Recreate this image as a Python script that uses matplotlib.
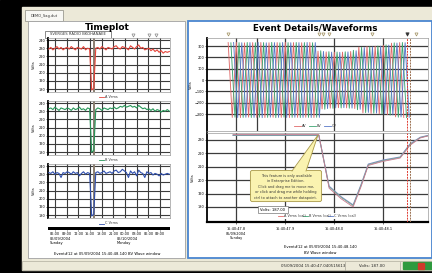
import matplotlib
matplotlib.use("Agg")
import matplotlib.pyplot as plt
import matplotlib.transforms as mtransforms
from matplotlib.patches import Rectangle, FancyBboxPatch, Polygon
import numpy as np

plt.rcParams['font.family'] = ['DejaVu Sans']

W, H = 432, 273

# ---------------- data ----------------
# Timeplot: hours since 00:00 on 05/09/2004
tp_first_hour, tp_last_hour = 4.4, 35.4
a_vrms = [229, 231, 228, 230, 232, 229, 231, 228, 230, 231,
          229, 232, 230, 228, 231, 230, 229, 232, 228, 230,
          229, 179, 181, 230, 231, 229, 232, 230, 228, 231,
          230, 229, 232, 233, 230, 229, 232, 231, 230, 228,
          233, 231, 229, 232, 234, 230, 231, 228, 229, 230,
          227, 229, 226, 228, 225, 227, 224, 226, 225, 226]
b_vrms = [233, 234, 232, 235, 233, 231, 234, 233, 232, 234,
          233, 231, 234, 232, 233, 235, 232, 233, 231, 234,
          233, 180, 182, 232, 234, 233, 231, 234, 233, 232,
          234, 233, 235, 233, 234, 236, 235, 237, 235, 236,
          237, 235, 236, 234, 237, 235, 233, 234, 232, 233,
          231, 233, 230, 232, 231, 229, 231, 230, 232, 230]
c_vrms = [232, 231, 233, 230, 232, 231, 226, 232, 231, 233,
          232, 230, 233, 231, 232, 228, 231, 233, 230, 232,
          231, 179, 181, 232, 233, 231, 232, 234, 231, 232,
          233, 231, 234, 235, 232, 233, 236, 234, 232, 226,
          234, 231, 233, 228, 235, 232, 231, 226, 233, 231,
          232, 229, 231, 230, 228, 231, 229, 230, 231, 230]
tp_ticks = [6, 9, 12, 15, 18, 21, 24, 27, 30, 33]
tp_tick_labels = ["06:00", "09:00", "12:00", "15:00", "18:00", "21:00",
                  "00:00", "03:00", "06:00", "09:00"]
tp_yticks = [180, 190, 200, 210, 220, 230, 240]
event_hour = 15.678
tp_marker_hours = [26.1, 30.2, 32.0]

# Waveforms: seconds relative to 15:40:47.8, peak volts per cycle
wave_start = -0.016
cycle = 1 / 60
env_a = [330, 332, 328, 330, 331, 329, 330, 332, 330, 329, 331,
         255, 248, 245, 246, 252, 290, 295, 298, 306, 325, 330]
env_b = [328, 330, 331, 329, 330, 332, 328, 330, 331, 330, 329,
         258, 250, 247, 249, 262, 288, 293, 300, 310, 328, 331]
env_c = [331, 329, 330, 332, 328, 330, 331, 329, 330, 331, 330,
         252, 246, 244, 248, 258, 286, 292, 299, 308, 326, 329]
wf_yticks = [-300, -200, -100, 0, 100, 200, 300]

# RMS (cal)
rms_t = [-0.006, 0.10, 0.169, 0.19, 0.215, 0.239, 0.255, 0.27, 0.30, 0.335, 0.355, 0.376, 0.392]
rms_a = [234.0, 234.0, 234.0, 194, 186, 180, 195, 211, 214, 216.5, 226, 231.5, 233]
rms_b = [233.6, 233.6, 233.6, 195, 187, 181, 196, 211.5, 214.5, 217, 226.5, 231.8, 233.2]
rms_c = [233.4, 233.4, 233.4, 195.5, 187.5, 181.5, 196.5, 212, 215, 217.3, 227, 232, 233.4]
rms_yticks = [180, 190, 200, 210, 220, 230]
wf_ticks = [0.0, 0.1, 0.2, 0.3]
wf_tick_labels = ["15:40:47.8\n05/09/2004\nSunday", "15:40:47.9", "15:40:48.0", "15:40:48.1"]
cursor_t = 0.043
event_t = [0.349, 0.356]
wf_marker_t = [-0.016, 0.169, 0.178, 0.19, 0.278, 0.367]
wf_marker_filled_t = [0.349]

# ---------------- figure ----------------
fig = plt.figure(figsize=(4.32, 2.73), dpi=100)


def box(x0, y0, x1, y1):
    return [x0 / W, 1 - y1 / H, (x1 - x0) / W, (y1 - y0) / H]


bg = fig.add_axes([0, 0, 1, 1])
bg.set_xlim(0, W); bg.set_ylim(H, 0); bg.axis('off')
bg.add_patch(Rectangle((0, 0), W, H, color='black'))
bg.add_patch(Rectangle((22, 7), W - 22, 263, color='#ece9d8'))
bg.add_patch(Rectangle((25, 10), 38, 11, facecolor='#f8f8f4', edgecolor='#8a8a80', lw=0.5))
bg.text(44, 15.5, 'DEMO_Sag.dut', fontsize=2.6, ha='center', va='center', color='#333333')
bg.add_patch(Rectangle((28, 21), 157, 237, facecolor='white', edgecolor='#a0a0a0', lw=0.6))
bg.add_patch(Rectangle((188, 20.5), 244, 237.5, facecolor='white', edgecolor='#4a86d0', lw=1.3))
bg.add_patch(Rectangle((22, 261), 410, 9, facecolor='#ece9d8', edgecolor='#b0ad9e', lw=0.5))
bg.plot([345, 345], [262, 269.5], color='#a8a598', lw=0.5)
bg.plot([400, 400], [262, 269.5], color='#a8a598', lw=0.5)
bg.add_patch(Rectangle((403, 262.3), 29, 7, color='#2e9a3e'))
bg.add_patch(Rectangle((418, 262.8), 6, 6, color='#d03a2a'))
bg.text(313, 265.8, '05/09/2004 15:40:47.040515613', fontsize=2.8, ha='center', va='center', color='#222222')
bg.text(372, 265.8, 'Volts: 187.00', fontsize=2.8, ha='center', va='center', color='#222222')

bg.text(107, 27, 'Timeplot', fontsize=6.5, fontweight='bold', ha='center', va='center')
bg.text(315, 28, 'Event Details/Waveforms', fontsize=6.3, fontweight='bold', ha='center', va='center')
bg.add_patch(Rectangle((45, 31), 66, 6.5, facecolor='white', edgecolor='#777777', lw=0.6))
bg.text(78, 34.3, 'SVERGES RADIO BKOHANAEE', fontsize=2.7, ha='center', va='center', color='#333333')

bg.text(50, 236.5, '05/09/2004\nSunday', fontsize=2.6, ha='left', va='top', linespacing=1.3)
bg.text(117, 236.5, '05/10/2004\nMonday', fontsize=2.6, ha='left', va='top', linespacing=1.3)
bg.text(107, 254, 'Event#12 at 05/09/2004 15:40:48.140 BV Wave window', fontsize=2.7, ha='center', va='center')
bg.text(320, 247.5, 'Event#12 at 05/09/2004 15:40:48.140', fontsize=2.7, ha='center', va='center')
bg.text(320, 253.5, 'BV Wave window', fontsize=2.7, ha='center', va='center')

grid_col = '#3c3c3c'
tp_x = np.linspace(tp_first_hour, tp_last_hour, len(a_vrms))


def style_spines(ax, lw_left=1.3):
    for s in ['top', 'right', 'bottom']:
        ax.spines[s].set_color('#9a9a9a'); ax.spines[s].set_linewidth(0.5)
    ax.spines['left'].set_color('black'); ax.spines['left'].set_linewidth(lw_left)


tp_boxes = [(48, 38, 170, 92), (48, 101, 170, 155), (48, 164, 170, 218)]
tp_series = [a_vrms, b_vrms, c_vrms]
tp_colors = ['#e5443a', '#27985a', '#2f4fae']
tp_labels = ['A Vrms', 'B Vrms', 'C Vrms']
tp_axes = []
for bx, ser, col in zip(tp_boxes, tp_series, tp_colors):
    ax = fig.add_axes(box(*bx))
    ax.axvline(event_hour + 0.25, color='#8a7e70', lw=1.4, zorder=2)
    ax.plot(tp_x, ser, color=col, lw=0.8, zorder=3)
    ax.set_xlim(4.2, 35.57); ax.set_ylim(176.5, 242.5)
    ax.set_yticks(tp_yticks)
    ax.set_xticks(tp_ticks); ax.set_xticklabels([])
    ax.grid(True, color=grid_col, lw=0.8)
    ax.set_axisbelow(True)
    ax.tick_params(labelsize=2.5, length=1.2, width=0.4, pad=0.8)
    ax.tick_params(axis='x', length=0)
    ax.set_ylabel('Volts', fontsize=2.5, labelpad=1.5)
    style_spines(ax)
    tp_axes.append(ax)

trans = mtransforms.blended_transform_factory(tp_axes[0].transData, tp_axes[0].transAxes)
tp_axes[0].plot(tp_marker_hours, [1.06] * len(tp_marker_hours), 'v', transform=trans, clip_on=False,
                ms=2.2, mfc='white', mec='#888888', mew=0.5)

tx = fig.add_axes(box(48, 226.5, 170, 229.5))
tx.set_facecolor('black')
tx.set_xlim(4.2, 35.57); tx.set_yticks([])
tx.set_xticks(tp_ticks); tx.set_xticklabels(tp_tick_labels)
tx.tick_params(axis='x', labelsize=2.5, length=0.8, width=0.4, pad=1)
for s in tx.spines.values():
    s.set_visible(False)

# ---- waveforms ----
wf1 = fig.add_axes(box(207, 38, 428, 131))
wf1.set_xlim(-0.0592, 0.3918); wf1.set_ylim(-450, 370.6)


def wave_vertices(env, offset):
    t, v = [], []
    for k, amp in enumerate(env):
        base = wave_start + offset + k * cycle
        t += [base, base + cycle / 2]
        v += [amp, -amp]
    return t, v


wave_cols = ['#e06a6a', '#3ea672', '#5a78c8']
for env, off, col in zip([env_a, env_b, env_c], [0, cycle / 3, 2 * cycle / 3], wave_cols):
    t, v = wave_vertices(env, off)
    wf1.plot(t, v, color=col, lw=0.65, zorder=3)
wf1.set_yticks(wf_yticks)
wf1.set_xticks(wf_ticks); wf1.set_xticklabels([])
wf1.grid(True, color=grid_col, lw=0.9); wf1.set_axisbelow(True)
wf1.axvline(cursor_t, color=grid_col, lw=0.9, zorder=1)
wf1.tick_params(labelsize=2.5, length=1.2, width=0.4, pad=0.8)
wf1.tick_params(axis='x', length=0)
wf1.set_ylabel('Volts', fontsize=2.5, labelpad=1.5)
style_spines(wf1)
wf1.axvline(event_t[0], color='#e03a30', lw=0.7, ls=(0, (2, 1)), zorder=4)
wf1.axvline(event_t[1], color='#9a7050', lw=0.7, ls=(0, (2, 1)), zorder=4)
trans2 = mtransforms.blended_transform_factory(wf1.transData, wf1.transAxes)
wf1.plot(wf_marker_t, [1.045] * len(wf_marker_t), 'v', transform=trans2, clip_on=False,
         ms=2.2, mfc='white', mec='#a09060', mew=0.5)
wf1.plot(wf_marker_filled_t, [1.045], 'v', transform=trans2, clip_on=False,
         ms=2.4, mfc='#333333', mec='#333333', mew=0.5)

wf2 = fig.add_axes(box(207, 133, 428, 222))
wf2.set_xlim(-0.0592, 0.3918); wf2.set_ylim(168.8, 235.2)
wf2.plot(rms_t, rms_c, color='#7d8cc4', lw=0.8, zorder=3)
wf2.plot(rms_t, rms_b, color='#7aa890', lw=0.6, zorder=3)
wf2.plot(rms_t, rms_a, color='#c87a90', lw=0.6, zorder=3)
wf2.set_yticks(rms_yticks)
wf2.set_xticks(wf_ticks); wf2.set_xticklabels(wf_tick_labels)
wf2.grid(True, color=grid_col, lw=0.9); wf2.set_axisbelow(True)
wf2.tick_params(labelsize=2.5, length=1.2, width=0.4, pad=0.8)
wf2.tick_params(axis='x', pad=2.5)
wf2.set_ylabel('Volts', fontsize=2.5, labelpad=1.5)
style_spines(wf2)
wf2.spines['bottom'].set_color('black'); wf2.spines['bottom'].set_linewidth(1.6)
wf2.axvline(event_t[0], color='#e03a30', lw=0.7, ls=(0, (2, 1)), zorder=4)
wf2.axvline(event_t[1], color='#9a7050', lw=0.7, ls=(0, (2, 1)), zorder=4)

# ---- overlay ----
ov = fig.add_axes([0, 0, 1, 1])
ov.set_xlim(0, W); ov.set_ylim(H, 0); ov.axis('off'); ov.patch.set_alpha(0)


def legend_row(y, x0, items, seg=5, fs=2.5):
    x = x0
    for lab, col, wtxt in items:
        ov.plot([x, x + seg], [y, y], color=col, lw=0.6)
        ov.text(x + seg + 1, y, lab, fontsize=fs, va='center', ha='left', color='#333333')
        x += seg + 2 + wtxt


legend_row(97, 99, [('A Vrms', tp_colors[0], 10)])
legend_row(160, 99, [('B Vrms', tp_colors[1], 10)])
legend_row(223.5, 99, [('C Vrms', tp_colors[2], 10)])
legend_row(126, 294, [('AV', wave_cols[0], 6), ('BV', wave_cols[1], 6), ('CV', wave_cols[2], 6)], seg=7)
ov.add_patch(Rectangle((274, 213), 102, 6, facecolor='white', edgecolor='none'))
legend_row(216, 278, [('A Vrms (cal)', wave_cols[0], 18), ('B Vrms (cal)', wave_cols[1], 18),
                      ('C Vrms (cal)', wave_cols[2], 18)])

# tooltip callout
yel = '#faf3b0'
edge = '#a89848'
ov.add_patch(FancyBboxPatch((251, 171), 70, 30, boxstyle='round,pad=0.6,rounding_size=2',
                            facecolor=yel, edgecolor=edge, lw=0.6, zorder=5))
ov.add_patch(Polygon([(292, 171.8), (306, 171.8), (318, 135)], closed=True, facecolor=yel,
                     edgecolor='none', zorder=6))
ov.plot([292, 318, 306], [171, 135, 171], color=edge, lw=0.6, zorder=7)
tip_lines = ['This feature is only available', 'in Enterprise Edition.',
             'Click and drag me to move me,', 'or click and drag me while holding',
             'ctrl to attach to another datapoint.']
for i, line in enumerate(tip_lines):
    ov.text(286, 176 + i * 5.4, line, fontsize=2.5, ha='center', va='center', zorder=8, color='#333333')

ov.add_patch(Rectangle((258, 206), 30, 7, facecolor='white', edgecolor='#777777', lw=0.5, zorder=5))
ov.text(273, 209.6, 'Volts: 187.00', fontsize=2.7, ha='center', va='center', zorder=6)

fig.savefig('out.png', dpi=100)
